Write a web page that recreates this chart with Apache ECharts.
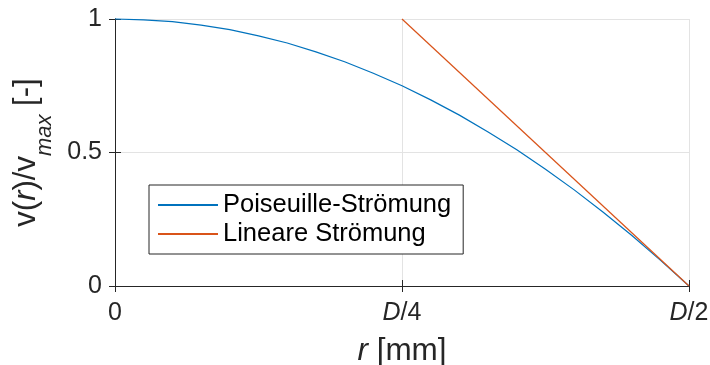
<!DOCTYPE html>
<html>
<head>
<meta charset="utf-8">
<script src="https://cdn.jsdelivr.net/npm/echarts@6/dist/echarts.min.js"></script>
<style>
  html, body { margin: 0; padding: 0; background: #fff; }
  #chart { width: 710px; height: 365px; }
</style>
</head>
<body>
<div id="chart"></div>
<script>
// Radial position r as a fraction of the pipe diameter D (0 = centre, 0.5 = wall)
const rPositions = [0, 0.025, 0.05, 0.075, 0.1, 0.125, 0.15, 0.175, 0.2, 0.225, 0.25,
                    0.275, 0.3, 0.325, 0.35, 0.375, 0.4, 0.425, 0.45, 0.475, 0.5];
// Normalised velocity v(r)/v_max of the Poiseuille profile
const poiseuilleValues = [1, 0.997, 0.99, 0.977, 0.96, 0.937, 0.91, 0.877, 0.84, 0.797, 0.75,
                          0.697, 0.64, 0.577, 0.51, 0.437, 0.36, 0.277, 0.19, 0.097, 0];
// Linear profile: from 1 at D/4 down to 0 at D/2
const linearPositions = [0.25, 0.5];
const linearValues = [1, 0];

const seriesNames = ['Poiseuille-Strömung', 'Lineare Strömung'];

const xTickValues = [0, 0.25, 0.5];
const xTickLabels = ['0', '{it|D}/4', '{it|D}/2'];
const yTickValues = [0, 0.5, 1];
const yTickLabels = ['0', '0.5', '1'];

const FONT = '"Liberation Sans", Arial, Helvetica, sans-serif';
const AXIS_COLOR = '#262626';

const pair = (xs, ys) => xs.map((x, i) => [x, ys[i]]);

const chart = echarts.init(document.getElementById('chart'), null, { renderer: 'canvas' });

const hiddenAxisLabel = { show: false };
const boxTick = { show: true, inside: true, length: 6, lineStyle: { color: AXIS_COLOR, width: 1 } };
const boxLine = { show: true, lineStyle: { color: AXIS_COLOR, width: 1 } };

chart.setOption({
  animation: false,
  backgroundColor: '#ffffff',
  textStyle: { fontFamily: FONT },
  grid: { left: 115, right: 21, top: 19, bottom: 79, containLabel: false, outerBoundsMode: 'none' },
  legend: {
    orient: 'vertical',
    left: 149,
    top: 185,
    data: seriesNames,
    backgroundColor: '#ffffff',
    borderColor: AXIS_COLOR,
    borderWidth: 1,
    borderRadius: 0,
    padding: [7, 12, 7, 8],
    itemWidth: 60,
    itemHeight: 22,
    itemGap: 3,
    itemTextGap: 7,
    itemStyle: { opacity: 0, borderWidth: 0 },
    textStyle: { fontFamily: FONT, fontSize: 25.5, color: '#000', lineHeight: 22 }
  },
  xAxis: [
    {
      type: 'value',
      min: 0, max: 0.5, interval: 0.25,
      position: 'bottom',
      axisLine: boxLine,
      axisTick: boxTick,
      splitLine: { show: true, lineStyle: { color: '#e3e3e3', width: 1 } },
      axisLabel: {
        margin: 15,
        fontSize: 25,
        color: AXIS_COLOR,
        fontFamily: FONT,
        formatter: v => xTickLabels[xTickValues.indexOf(v)],
        rich: { it: { fontStyle: 'italic', fontSize: 25, color: AXIS_COLOR, fontFamily: FONT } }
      },
      name: '{it|r} [mm]',
      nameLocation: 'middle',
      nameGap: 49,
      nameTextStyle: {
        fontSize: 31.5, color: AXIS_COLOR, fontFamily: FONT,
        rich: { it: { fontStyle: 'italic', fontSize: 31.5, color: AXIS_COLOR, fontFamily: FONT } }
      }
    },
    {
      type: 'value',
      min: 0, max: 0.5, interval: 0.25,
      position: 'top',
      axisLine: boxLine,
      axisTick: boxTick,
      splitLine: { show: false },
      axisLabel: hiddenAxisLabel
    }
  ],
  yAxis: [
    {
      type: 'value',
      min: 0, max: 1, interval: 0.5,
      position: 'left',
      axisLine: boxLine,
      axisTick: boxTick,
      splitLine: { show: true, lineStyle: { color: '#e3e3e3', width: 1 } },
      axisLabel: {
        margin: 13,
        fontSize: 25,
        color: AXIS_COLOR,
        fontFamily: FONT,
        formatter: v => yTickLabels[yTickValues.indexOf(v)]
      },
      name: '{n|v(}{it|r}{n|)/v}{sub|max}{n| [-]}',
      nameLocation: 'middle',
      nameRotate: 90,
      nameGap: 52,
      nameTextStyle: {
        fontSize: 31, color: AXIS_COLOR, fontFamily: FONT,
        rich: {
          n: { fontSize: 31, lineHeight: 59, color: AXIS_COLOR, fontFamily: FONT },
          it: { fontSize: 31, lineHeight: 59, fontStyle: 'italic', color: AXIS_COLOR, fontFamily: FONT },
          sub: { fontSize: 22, lineHeight: 22, fontStyle: 'italic', verticalAlign: 'bottom', color: AXIS_COLOR, fontFamily: FONT }
        }
      }
    },
    {
      type: 'value',
      min: 0, max: 1, interval: 0.5,
      position: 'right',
      axisLine: boxLine,
      axisTick: boxTick,
      splitLine: { show: false },
      axisLabel: hiddenAxisLabel
    }
  ],
  series: [
    {
      name: seriesNames[0],
      type: 'line',
      data: pair(rPositions, poiseuilleValues),
      symbol: 'none',
      smooth: false,
      clip: false,
      lineStyle: { color: '#0072BD', width: 1.2 },
      itemStyle: { color: '#0072BD' },
      z: 3
    },
    {
      name: seriesNames[1],
      type: 'line',
      data: pair(linearPositions, linearValues),
      symbol: 'none',
      clip: false,
      lineStyle: { color: '#D95319', width: 1.2 },
      itemStyle: { color: '#D95319' },
      z: 3
    }
  ]
});
</script>
</body>
</html>
